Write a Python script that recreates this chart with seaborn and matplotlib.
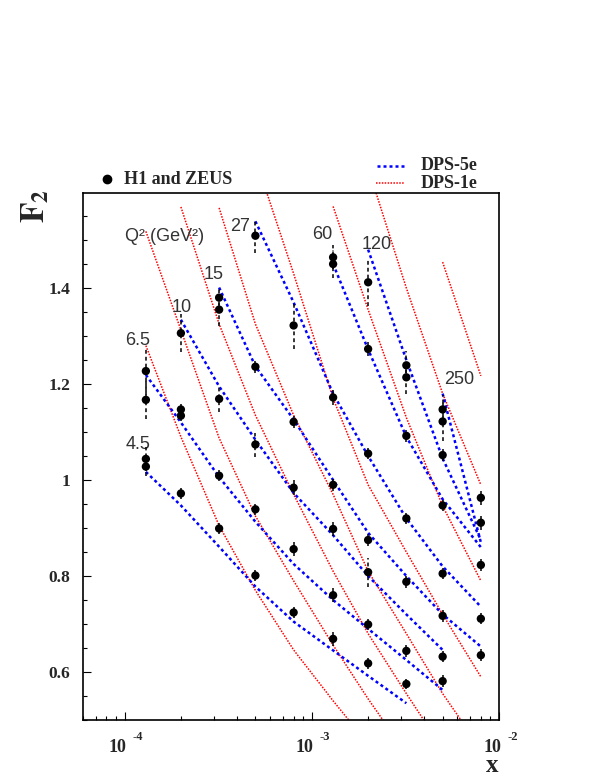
import numpy as np
import pandas as pd
import matplotlib
matplotlib.use("Agg")
import matplotlib.pyplot as plt
from matplotlib.lines import Line2D
from matplotlib.ticker import MultipleLocator, LogLocator, NullFormatter, FuncFormatter
import seaborn as sns

sns.set_theme(style="white")
plt.rcParams["font.family"] = ["Liberation Serif", "DejaVu Serif"]
plt.rcParams["mathtext.fontset"] = "stix"

# x bins of the measurements
x_bins = [1.3e-4, 2e-4, 3.2e-4, 5e-4, 8e-4, 1.3e-3, 2e-3, 3.2e-3, 5e-3, 8e-3]
q2_list = ["4.5", "6.5", "10", "15", "27", "60", "120", "250"]

# H1 and ZEUS points: bin index, F2, error
data_bin = {
    "4.5": [0, 0, 1, 2, 3, 4, 5, 6, 7],
    "6.5": [0, 0, 1, 1, 2, 3, 4, 5, 6, 7, 8],
    "10": [1, 2, 3, 4, 5, 6, 8],
    "15": [2, 2, 3, 4, 5, 6, 7, 8, 9],
    "27": [3, 4, 5, 6, 7, 8, 9],
    "60": [5, 5, 6, 7, 8, 9],
    "120": [6, 7, 7, 8, 9],
    "250": [8, 8, 9],
}
data_f2 = {
    "4.5": [1.044, 1.028, 0.972, 0.899, 0.801, 0.724, 0.669, 0.618, 0.575],
    "6.5": [1.227, 1.167, 1.147, 1.134, 1.009, 0.939, 0.856, 0.760, 0.699, 0.644, 0.581],
    "10": [1.306, 1.169, 1.074, 0.984, 0.898, 0.808, 0.632],
    "15": [1.380, 1.355, 1.236, 1.121, 0.990, 0.875, 0.788, 0.717, 0.635],
    "27": [1.509, 1.322, 1.172, 1.055, 0.920, 0.805, 0.711],
    "60": [1.464, 1.450, 1.273, 1.092, 0.947, 0.823],
    "120": [1.412, 1.239, 1.214, 1.052, 0.911],
    "250": [1.147, 1.122, 0.963],
}
data_err = {
    "4.5": [0.025, 0.02, 0.012, 0.012, 0.012, 0.012, 0.015, 0.012, 0.01],
    "6.5": [0.05, 0.04, 0.012, 0.012, 0.012, 0.012, 0.015, 0.015, 0.012, 0.012, 0.012],
    "10": [0.04, 0.028, 0.025, 0.015, 0.015, 0.03, 0.012],
    "15": [0.02, 0.035, 0.012, 0.012, 0.012, 0.012, 0.012, 0.012, 0.012],
    "27": [0.035, 0.05, 0.015, 0.012, 0.012, 0.012, 0.012],
    "60": [0.025, 0.03, 0.015, 0.012, 0.012, 0.012],
    "120": [0.05, 0.03, 0.035, 0.012, 0.015],
    "250": [0.03, 0.04, 0.015],
}

# DPS-5e curves: first bin, F2 values
dps5e_first = {"4.5": 0, "6.5": 0, "10": 1, "15": 2, "27": 3, "60": 5, "120": 6, "250": 8}
dps5e_f2 = {
    "4.5": [1.017, 0.947, 0.861, 0.778, 0.705, 0.645, 0.592, 0.535],
    "6.5": [1.219, 1.12, 1.006, 0.913, 0.825, 0.75, 0.69, 0.625, 0.5625],
    "10": [1.334, 1.195, 1.084, 0.973, 0.885, 0.80, 0.72, 0.646],
    "15": [1.401, 1.237, 1.126, 1.0, 0.89, 0.80, 0.72, 0.653],
    "27": [1.539, 1.37, 1.18, 1.05, 0.92, 0.82, 0.736],
    "60": [1.45, 1.272, 1.09, 0.96, 0.86],
    "120": [1.48, 1.25, 1.045, 0.875],
    "250": [1.18, 0.87],
}

# DPS-1e curves: first bin, F2 values
dps1e_first = {"4.5": 0, "6.5": 0, "10": 1, "15": 2, "27": 3, "60": 5, "120": 6, "250": 8}
dps1e_f2 = {
    "4.5": [1.28, 1.09, 0.905, 0.77, 0.646, 0.54, 0.45],
    "6.5": [1.518, 1.3125, 1.0875, 0.925, 0.79, 0.656, 0.544, 0.43],
    "10": [1.569, 1.325, 1.135, 0.97, 0.81, 0.68, 0.555, 0.44],
    "15": [1.567, 1.325, 1.135, 0.97, 0.81, 0.68, 0.555, 0.44],
    "27": [1.67, 1.43, 1.17, 0.99, 0.85, 0.72, 0.59],
    "60": [1.57, 1.355, 1.13, 0.946, 0.79],
    "120": [1.65, 1.40, 1.18, 0.99],
    "250": [1.454, 1.217],
}

# Q2 labels: x, F2 of the label centre
label_x = {"4.5": 1.18e-4, "6.5": 1.18e-4, "10": 2.03e-4, "15": 3.0e-4, "27": 4.14e-4,
           "60": 1.14e-3, "120": 2.22e-3, "250": 6.1e-3}
label_y = {"4.5": 1.075, "6.5": 1.29, "10": 1.36, "15": 1.429, "27": 1.529,
           "60": 1.511, "120": 1.491, "250": 1.209}


def curves(first, vals):
    rows = []
    for q in q2_list:
        for i, v in enumerate(vals[q]):
            rows.append({"Q2": q, "x": x_bins[first[q] + i], "F2": v})
    return pd.DataFrame(rows)


pts = pd.DataFrame([
    {"Q2": q, "x": x_bins[b], "F2": f, "err": e}
    for q in q2_list
    for b, f, e in zip(data_bin[q], data_f2[q], data_err[q])
])
blue = curves(dps5e_first, dps5e_f2)
red = curves(dps1e_first, dps1e_f2)

W, H = 599, 776
fig = plt.figure(figsize=(W / 100, H / 100), dpi=100)
ax = fig.add_axes([83 / W, 1 - 720 / H, 416 / W, 527 / H])
ax.set_xscale("log")

sns.lineplot(data=red, x="x", y="F2", units="Q2", estimator=None, sort=False,
             color="red", lw=1.1, linestyle=(0, (1, 0.9)), ax=ax, zorder=2)
sns.lineplot(data=blue, x="x", y="F2", units="Q2", estimator=None, sort=False,
             color="blue", lw=1.8, linestyle=(0, (1.2, 1.2)), ax=ax, zorder=3)

big = pts["err"] >= 0.02
ax.vlines(pts.loc[big, "x"], pts.loc[big, "F2"] - pts.loc[big, "err"],
          pts.loc[big, "F2"] + pts.loc[big, "err"], colors="black", lw=1.1,
          linestyles=(0, (2.5, 2)), zorder=4)
ax.vlines(pts.loc[~big, "x"], pts.loc[~big, "F2"] - pts.loc[~big, "err"],
          pts.loc[~big, "F2"] + pts.loc[~big, "err"], colors="black", lw=1.1, zorder=4)
sns.scatterplot(data=pts, x="x", y="F2", color="black", s=36, edgecolor="none",
                ax=ax, zorder=5)

for q in q2_list:
    ax.text(label_x[q], label_y[q], q, ha="center", va="center", fontsize=13,
            color="#333333", family=["Liberation Sans", "DejaVu Sans"])
ax.text(1.0e-4, 1.508, "Q² (GeV²)", ha="left", va="center", fontsize=13,
        color="#333333", family=["Liberation Sans", "DejaVu Sans"])

ax.set_xlim(6e-5, 1e-2)
ax.set_ylim(0.5, 1.598)
ax.set_xlabel("")
ax.set_ylabel("")

ax.yaxis.set_major_locator(MultipleLocator(0.2))
ax.yaxis.set_minor_locator(MultipleLocator(0.05))
ax.yaxis.set_major_formatter(FuncFormatter(lambda v, p: "%g" % round(v, 2)))
ax.xaxis.set_major_locator(LogLocator(base=10))
ax.xaxis.set_minor_locator(LogLocator(base=10, subs=np.arange(2, 10)))
ax.xaxis.set_major_formatter(NullFormatter())
ax.xaxis.set_minor_formatter(NullFormatter())
ax.tick_params(axis="both", which="both", direction="in", top=False, right=False,
               bottom=True, left=True, color="black", width=0.8)
ax.tick_params(axis="both", which="major", length=5.5)
ax.tick_params(axis="both", which="minor", length=3)
ax.tick_params(axis="y", which="major", labelsize=12.5, pad=9)
for lab in ax.get_yticklabels():
    lab.set_fontweight("bold")
for s in ax.spines.values():
    s.set_color("black")
    s.set_linewidth(1.2)

for d in [-4, -3, -2]:
    ax.annotate("10", xy=(10.0 ** d, 0), xycoords=("data", "axes fraction"),
                xytext=(2, -27), textcoords="offset pixels", ha="right", va="center",
                fontsize=13, fontweight="bold", annotation_clip=False)
    ax.annotate(str(d), xy=(10.0 ** d, 0), xycoords=("data", "axes fraction"),
                xytext=(8, -17), textcoords="offset pixels", ha="left", va="center",
                fontsize=9, fontweight="bold", annotation_clip=False)

fig.text(492 / W, 1 - 766 / H, "x", ha="center", va="center", fontsize=18,
         fontweight="bold")
fig.text(36 / W, 1 - 206 / H, r"$\mathbf{F}_{\mathbf{2}}$", ha="center", va="center",
         fontsize=24, rotation=90)

# legend
fig.add_artist(Line2D([107 / W], [1 - 179 / H], marker="o", color="black", ms=6,
                      transform=fig.transFigure))
fig.text(124 / W, 1 - 179 / H, "H1 and ZEUS", ha="left", va="center", fontsize=13,
         fontweight="bold")
fig.add_artist(Line2D([377 / W, 404 / W], [1 - 166 / H] * 2, color="blue", lw=1.8,
                      linestyle=(0, (1.2, 1.2)), transform=fig.transFigure))
fig.add_artist(Line2D([376 / W, 404 / W], [1 - 183 / H] * 2, color="red", lw=1.1,
                      linestyle=(0, (1, 0.9)), transform=fig.transFigure))
fig.text(421 / W, 1 - 165 / H, "DPS-5e", ha="left", va="center", fontsize=13,
         fontweight="bold")
fig.text(421 / W, 1 - 183 / H, "DPS-1e", ha="left", va="center", fontsize=13,
         fontweight="bold")

fig.savefig("out.png", dpi=100)
